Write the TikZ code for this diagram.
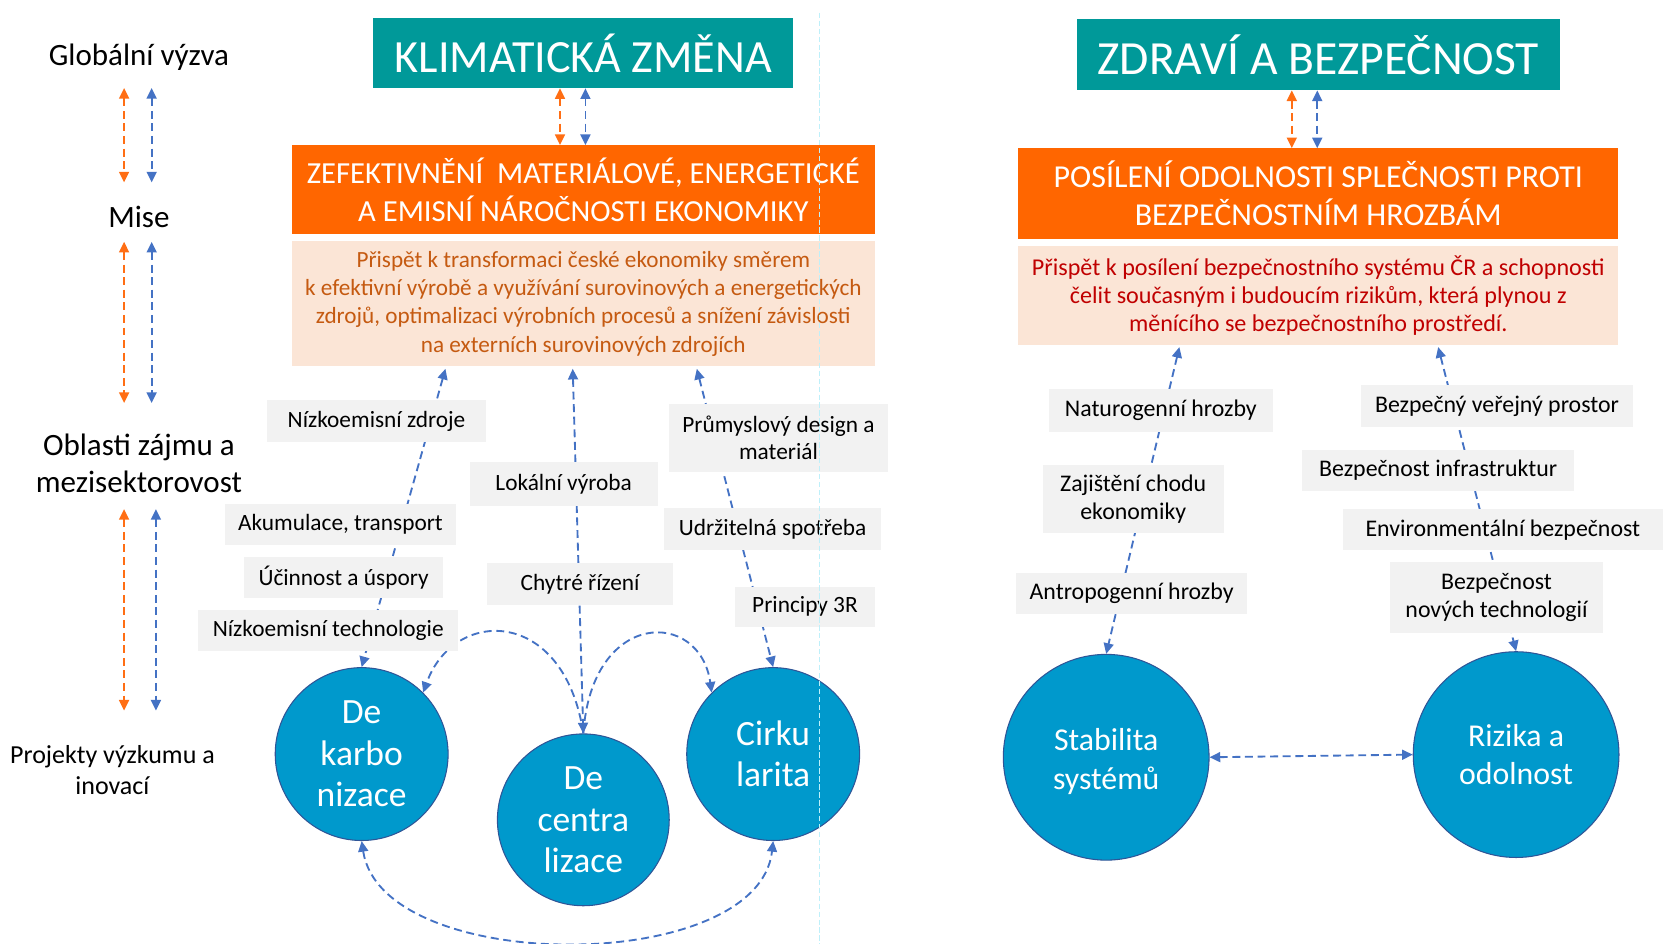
\documentclass[tikz,border=0pt]{standalone}
\usepackage{fontspec}
\setmainfont{Carlito}
\usetikzlibrary{arrows.meta,calc,shapes.geometric}

\definecolor{teal1}{RGB}{0,153,153}
\definecolor{orng}{RGB}{255,102,0}
\definecolor{peach}{RGB}{251,229,214}
\definecolor{brwn}{RGB}{197,90,17}
\definecolor{dred}{RGB}{192,0,0}
\definecolor{lgray}{RGB}{242,242,242}
\definecolor{cblue}{RGB}{0,153,204}
\definecolor{cedge}{RGB}{47,85,151}
\definecolor{lblue}{RGB}{68,114,196}
\definecolor{oarrow}{RGB}{255,110,20}
\definecolor{guide}{RGB}{190,240,250}

\newcommand{\fsz}[2]{\fontsize{#1}{#2}\selectfont}

\begin{document}
\begin{tikzpicture}[x=0.8pt,y=-0.8pt,
  title/.style={fill=teal1,text=white,inner sep=0pt},
  mission/.style={fill=orng,text=white,inner sep=0pt,align=center},
  desc/.style={fill=peach,inner sep=0pt,align=center},
  side/.style={align=center,inner sep=0pt,font=\fsz{23.4}{28}},
  sidesmall/.style={align=center,inner sep=0pt,font=\fsz{19.6}{23.2}},
  lbl/.style={fill=lgray,inner sep=0pt,align=center,font=\fsz{17.6}{20.8}},
  lblr/.style={fill=lgray,inner sep=0pt,align=center,font=\fsz{18}{21.2}},
  blob/.style={circle,fill=cblue,draw=cedge,line width=0.8pt,text=white,align=center,inner sep=0pt},
  tipboth/.style={{Triangle[length=8pt,width=7.5pt]}-{Triangle[length=8pt,width=7.5pt]}},
  conn/.style={draw=lblue,line width=1.4pt,dash pattern=on 6pt off 3.5pt,tipboth},
  conn1/.style={draw=lblue,line width=1.4pt,dash pattern=on 6pt off 3.5pt,-{Triangle[length=8pt,width=7.5pt]}},
  oarr/.style={draw=oarrow,line width=1.4pt,dash pattern=on 6pt off 3.5pt,tipboth},
  barr/.style={draw=lblue,line width=1.4pt,dash pattern=on 6pt off 3.5pt,tipboth},
]
\useasboundingbox (0,0) rectangle (1568,890);

% left column
\node[side] (glob) at (131,54) {Globální výzva};
\node[side] (mise) at (131,205) {Mise};
\node[side] (obl) at (131,436.5) {Oblasti zájmu a\\mezisektorovost};
\node[sidesmall] (proj) at (106,726) {Projekty výzkumu a\\inovací};

\draw[oarr] ($(glob)+(-14,29)$) -- ($(mise)+(-14,-33)$);
\draw[barr] ($(glob)+(12,29)$) -- ($(mise)+(12,-33)$);
\draw[oarr] ($(mise)+(-14,23)$) -- ($(obl)+(-14,-56.5)$);
\draw[barr] ($(mise)+(12,23)$) -- ($(obl)+(12,-56.5)$);
\draw[oarr] ($(obl)+(-14,43.5)$) -- ($(proj)+(11,-56)$);
\draw[barr] ($(obl)+(16,43.5)$) -- ($(proj)+(41,-56)$);

% climate column
\node[title,minimum width=316.8pt,minimum height=52.8pt,font=\fsz{34.8}{40}] (t1) at (550,50) {KLIMATICKÁ ZMĚNA};
\node[mission,minimum width=440pt,minimum height=67.2pt,font=\fsz{23.1}{28}] (m1) at (550,179) {ZEFEKTIVNĚNÍ \ MATERIÁLOVÉ, ENERGETICKÉ\\A EMISNÍ NÁROČNOSTI EKONOMIKY};
\node[desc,text=brwn,minimum width=440pt,minimum height=94.4pt,font=\fsz{17.5}{21.2}] (d1) at (550,286.5) {Přispět k transformaci české ekonomiky směrem\\k efektivní výrobě a využívání surovinových a energetických\\zdrojů, optimalizaci výrobních procesů a snížení závislosti\\na externích surovinových zdrojích};

\draw[oarr] ($(t1.south)+(-22,0)$) -- ($(m1.north)+(-22,0)$);
\draw[barr] ($(t1.south)+(2,0)$) -- ($(m1.north)+(2,0)$);

\node[blob,minimum size=130.4pt,font=\fsz{26.8}{31.2}] (karbo) at (341,711) {De\\karbo\\nizace};
\node[blob,minimum size=129.6pt,font=\fsz{26.8}{31.2}] (decen) at (550,773) {De\\centra\\lizace};
\node[blob,minimum size=130.4pt,font=\fsz{26.8}{31.2}] (cirku) at (729,711) {Cirku\\larita};

\draw[conn] ($(d1.south)+(-130,2)$) -- (karbo.north);
\draw[conn] ($(d1.south)+(-10,2)$) -- (decen.north);
\draw[conn] ($(d1.south)+(107,2)$) -- (cirku.north);
\draw[conn1] (decen.north) .. controls (532,572) and (428,572) .. (karbo.45);
\draw[conn1] (decen.north) .. controls (558,574) and (660,574) .. (cirku.135);
\draw[conn] (karbo.south) .. controls (360,920) and (715,920) .. (cirku.south);

\node[lbl,minimum width=164.8pt,minimum height=32pt] (nz) at (355,397) {Nízkoemisní zdroje};
\node[lbl,minimum width=174.4pt,minimum height=31.2pt] (ak) at (321,494.5) {Akumulace, transport};
\node[lbl,minimum width=150.4pt,minimum height=31.2pt] (uc) at (324,544.5) {Účinnost a úspory};
\node[lbl,minimum width=196pt,minimum height=31.2pt] (nt) at (309.5,594.5) {Nízkoemisní technologie};
\node[lbl,minimum width=141.6pt,minimum height=32.8pt] (lv) at (531.5,456.5) {Lokální výroba};
\node[lbl,minimum width=140.8pt,minimum height=31.2pt] (ch) at (547,550.5) {Chytré řízení};
\node[lbl,minimum width=164.8pt,minimum height=51.2pt] (pd) at (734,413) {Průmyslový design a\\materiál};
\node[lbl,minimum width=164pt,minimum height=32pt] (us) at (728.5,499) {Udržitelná spotřeba};
\node[lbl,minimum width=105.6pt,minimum height=30.4pt] (p3) at (759,572) {Principy 3R};

% health column
\node[title,minimum width=364.8pt,minimum height=53.6pt,font=\fsz{35.9}{40}] (t2) at (1243,51.5) {ZDRAVÍ A BEZPEČNOST};
\node[mission,minimum width=452.8pt,minimum height=68pt,font=\fsz{24.1}{28.4}] (m2) at (1243,182.5) {POSÍLENÍ ODOLNOSTI SPLEČNOSTI PROTI\\BEZPEČNOSTNÍM HROZBÁM};
\node[desc,text=dred,minimum width=452.8pt,minimum height=74.4pt,font=\fsz{18.2}{21.2}] (d2) at (1243,278.5) {Přispět k posílení bezpečnostního systému ČR a schopnosti\\čelit současným i budoucím rizikům, která plynou z\\měnícího se bezpečnostního prostředí.};

\draw[oarr] ($(t2.south)+(-25,0)$) -- ($(m2.north)+(-25,0)$);
\draw[barr] ($(t2.south)+(-1,0)$) -- ($(m2.north)+(-1,0)$);

\node[blob,minimum size=155.2pt,font=\fsz{24}{28.8}] (stab) at (1043,714) {\rule{0pt}{23pt}Stabilita\\systémů};
\node[blob,minimum size=155.2pt,font=\fsz{24}{28.8}] (riz) at (1429.5,711.5) {Rizika a\\odolnost};

\draw[conn] ($(d2.south)+(-131,2)$) -- (stab.north);
\draw[conn] ($(d2.south)+(113,2)$) -- (riz.north);
\draw[conn] (stab.east) -- (riz.west);

\node[lblr,minimum width=168.8pt,minimum height=32pt] (ng) at (1094.5,387) {Naturogenní hrozby};
\node[lblr,minimum width=136.8pt,minimum height=52pt] (zc) at (1068.5,470.5) {Zajištění chodu\\ekonomiky};
\node[lblr,minimum width=174.4pt,minimum height=31.2pt] (ah) at (1067,559.5) {Antropogenní hrozby};
\node[lblr,minimum width=205.6pt,minimum height=32pt] (bvp) at (1411.5,383) {Bezpečný veřejný prostor};
\node[lblr,minimum width=204.8pt,minimum height=31.2pt] (bi) at (1356,443.5) {Bezpečnost infrastruktur};
\node[lblr,minimum width=241.6pt,minimum height=31.2pt] (eb) at (1417,499.5) {Environmentální bezpečnost};
\node[lblr,minimum width=160pt,minimum height=53.6pt] (bnt) at (1411,563.5) {Bezpečnost\\nových technologií};

% guide line
\coordinate (gtop) at (773,12);
\coordinate (gbot) at (773,890);
\draw[guide,line width=0.8pt,dash pattern=on 4pt off 2pt] (gtop) -- (gbot);
\end{tikzpicture}
\end{document}
